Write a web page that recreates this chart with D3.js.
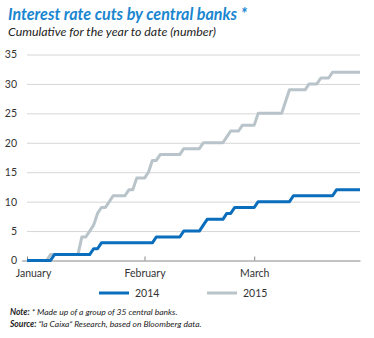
<!DOCTYPE html>
<html>
<head>
<meta charset="utf-8">
<script src="https://cdn.jsdelivr.net/npm/d3@7"></script>
<style>
  html, body { margin: 0; padding: 0; background: #fff; }
  svg { display: block; }
</style>
</head>
<body>
<svg id="chart" width="374" height="338"></svg>
<script>
// ---- data ----
const dates2015 = ["01-02","01-07","01-08","01-15","01-16","01-17","01-18","01-19","01-20","01-21","01-22","01-23","01-24","01-27","01-28","01-29","01-30","02-01","02-02","02-03","02-04","02-05","02-10","02-11","02-15","02-16","02-21","02-22","02-23","02-25","02-26","03-01","03-02","03-08","03-09","03-10","03-14","03-15","03-17","03-18","03-20","03-21","03-28"];
const values2015 = [0,0,1,1,4,4,5,6,8,9,9,10,11,11,12,12,14,14,15,17,17,18,18,19,19,20,20,21,22,22,23,23,25,25,27,29,29,30,30,31,31,32,32];
const dates2014 = ["01-02","01-08","01-09","01-18","01-19","01-20","01-21","02-03","02-04","02-10","02-11","02-15","02-16","02-17","02-21","02-22","02-23","02-24","03-01","03-02","03-10","03-11","03-21","03-22","03-28"];
const values2014 = [0,0,1,1,2,2,3,3,4,4,5,5,6,7,7,8,8,9,9,10,10,11,11,12,12];
const seriesNames = ["2014","2015"];
const yTicks = [0,5,10,15,20,25,30,35];
const xTickDates = ["01-02","02-01","03-01"];
const xTickLabels = ["January","February","March"];
const titleText = "Interest rate cuts by central banks *";
const subtitleText = "Cumulative for the year to date (number)";

// ---- setup ----
const parse = d3.timeParse("%Y-%m-%d");
const toDate = s => parse("2015-" + s);
const svg = d3.select("#chart");
const plotLeft = 27, plotRight = 360, plotTop = 54.5, plotBottom = 260.5;
const colors = {"2014": "#0a6ebd", "2015": "#b8c4c9"};
const FONT = "Lato, 'Open Sans', sans-serif";

const x = d3.scaleTime()
  .domain([toDate("01-02"), toDate("03-28")])
  .range([plotLeft, plotRight]);
const y = d3.scaleLinear().domain([0, 35]).range([plotBottom, plotTop]);

// title
svg.append("text").attr("x", 8).attr("y", 20)
  .attr("font-family", FONT)
  .attr("font-weight", "bold").attr("font-style", "italic")
  .attr("font-size", 16.1).attr("fill", "#1a86d0")
  .text(titleText);
svg.append("text").attr("x", 8).attr("y", 36)
  .attr("font-family", FONT)
  .attr("font-style", "italic")
  .attr("font-size", 12.4).attr("fill", "#222")
  .text(subtitleText);

// gridlines
const yAxis = d3.axisLeft(y).tickValues(yTicks).tickSize(-(plotRight - plotLeft)).tickPadding(10);
const gy = svg.append("g").attr("transform", `translate(${plotLeft},0)`).call(yAxis);
gy.select(".domain").remove();
gy.selectAll(".tick line").attr("stroke", d => d === 0 ? "none" : "#d6d6d6").attr("stroke-width", 1);
gy.selectAll(".tick text")
  .attr("font-family", FONT)
  .attr("font-size", 10.5).attr("fill", "#333");
gy.selectAll(".tick").filter(d => d === 0).append("line")
  .attr("x1", -5).attr("x2", 0).attr("stroke", "#888");

// x axis
const xAxis = d3.axisBottom(x)
  .tickValues(xTickDates.map(toDate))
  .tickFormat((d, i) => xTickLabels[i])
  .tickSize(-4).tickSizeOuter(0).tickPadding(9);
const gx = svg.append("g").attr("transform", `translate(0,${plotBottom})`).call(xAxis);
gx.select(".domain").attr("stroke", "#888");
gx.selectAll(".tick line").attr("stroke", "#888");
gx.selectAll(".tick text")
  .attr("font-family", FONT)
  .attr("font-size", 10.5).attr("fill", "#333")
  .attr("dx", (d, i) => i === 0 ? 6 : 0);

// lines
const line = d3.line().x(d => x(d.date)).y(d => y(d.value));
const series = [
  {name: "2015", data: dates2015.map((d, i) => ({date: toDate(d), value: values2015[i]}))},
  {name: "2014", data: dates2014.map((d, i) => ({date: toDate(d), value: values2014[i]}))}
];
svg.append("g").selectAll("path").data(series).join("path")
  .attr("d", s => line(s.data))
  .attr("fill", "none")
  .attr("stroke", s => colors[s.name])
  .attr("stroke-width", 3)
  .attr("stroke-linejoin", "round");

// legend
const legX = d3.scalePoint().domain(seriesNames).range([99, 207]);
const leg = svg.append("g").selectAll("g").data(seriesNames).join("g")
  .attr("transform", d => `translate(${legX(d)},293)`);
leg.append("line").attr("x1", 0).attr("x2", 30)
  .attr("stroke", d => colors[d]).attr("stroke-width", 3);
leg.append("text").attr("x", 36).attr("y", 3.5)
  .attr("font-family", FONT)
  .attr("font-size", 10.5).attr("fill", "#333")
  .text(d => d);

// notes
const note = svg.append("text").attr("x", 10).attr("y", 315)
  .attr("font-family", FONT)
  .attr("font-style", "italic").attr("font-size", 8.5).attr("fill", "#222");
note.append("tspan").attr("font-weight", "bold").text("Note:");
note.append("tspan").text(" * Made up of a group of 35 central banks.");
const src = svg.append("text").attr("x", 10).attr("y", 327)
  .attr("font-family", FONT)
  .attr("font-style", "italic").attr("font-size", 8.5).attr("fill", "#222");
src.append("tspan").attr("font-weight", "bold").text("Source:");
src.append("tspan").text(" \u201cla Caixa\u201d Research, based on Bloomberg data.");
</script>
</body>
</html>
